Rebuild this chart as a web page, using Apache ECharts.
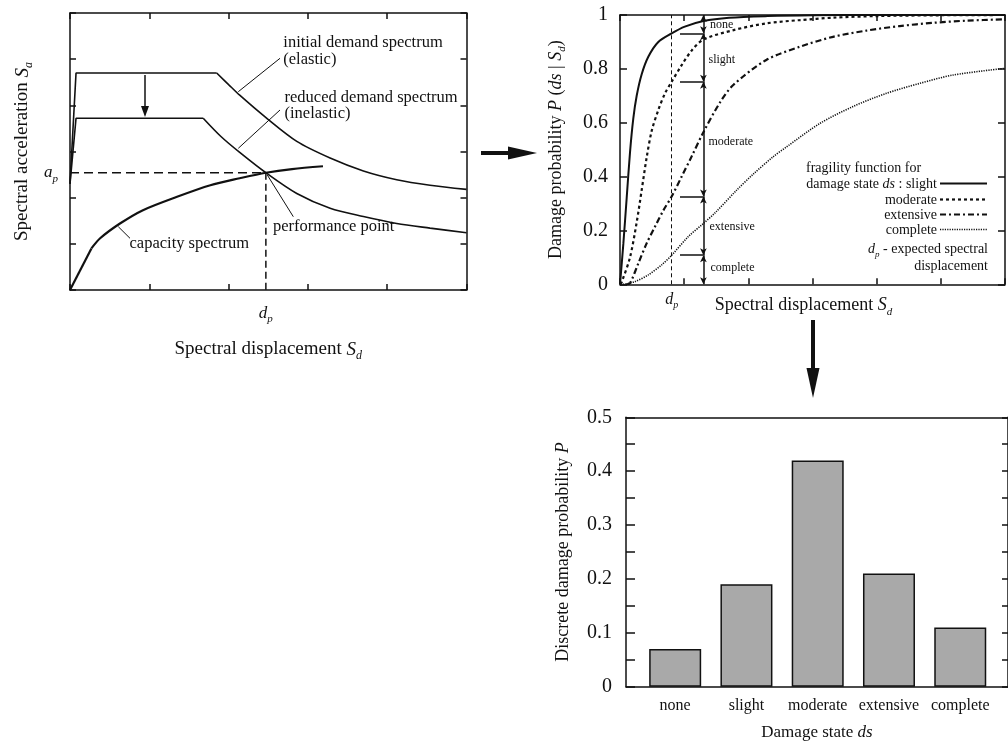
<!DOCTYPE html>
<html><head><meta charset="utf-8">
<script src="https://cdn.jsdelivr.net/npm/echarts@6/dist/echarts.min.js"></script>
<style>html,body{margin:0;padding:0;background:#fff}#c{width:1008px;height:742px}</style>
</head><body><div id="c"></div>
<script>
// ---------- Panel 1: capacity spectrum method ----------
const elasticRise   = [[0,2.3],[0.076,4.70],[1.85,4.70]];
const elasticFall   = [[1.85,4.70],[2.0,4.45],[2.14,4.22],[2.46,3.75],[2.86,3.22],[3.28,2.86],[3.70,2.58],[4.12,2.39],[4.54,2.27],[5.0,2.18]];
const reducedRise   = [[0,2.3],[0.076,3.72],[1.68,3.72]];
const reducedFall   = [[1.68,3.72],[1.9,3.33],[2.14,2.98],[2.47,2.54],[2.86,2.09],[3.28,1.77],[3.70,1.59],[4.12,1.44],[4.54,1.34],[5.0,1.24]];
const capacityLinear = [[0,0],[0.27,0.9]];
const capacityCurve  = [[0.27,0.9],[0.38,1.12],[0.63,1.44],[0.92,1.73],[1.35,2.02],[1.77,2.27],[2.14,2.42],[2.47,2.54],[2.8,2.62],[3.19,2.68]];
const perfPoint = [2.47, 2.54];

// ---------- Panel 2: fragility curves ----------
const fragSlight   = [[0,0],[0.052,0.15],[0.104,0.32],[0.156,0.49],[0.207,0.615],[0.26,0.70],[0.338,0.78],[0.441,0.845],[0.597,0.90],[0.805,0.932],[1.01,0.957],[1.3,0.978],[1.7,0.99],[2.3,0.996],[3.0,0.999],[4.0,1.0],[6,1.0]];
const fragModerate = [[0.01,0],[0.03,0.01],[0.156,0.10],[0.26,0.23],[0.338,0.35],[0.415,0.47],[0.494,0.57],[0.597,0.647],[0.701,0.709],[0.805,0.752],[0.961,0.814],[1.117,0.868],[1.3,0.909],[1.77,0.944],[2.28,0.969],[2.8,0.981],[3.32,0.99],[4.0,0.996],[5,0.999],[6,1.0]];
const fragExtensive = [[0.1,0],[0.156,0.004],[0.286,0.078],[0.415,0.152],[0.545,0.214],[0.675,0.274],[0.805,0.326],[0.961,0.40],[1.117,0.475],[1.3,0.565],[1.558,0.675],[1.765,0.74],[2.28,0.833],[2.8,0.882],[3.32,0.919],[3.84,0.942],[4.36,0.959],[4.88,0.971],[5.4,0.979],[6,0.984]];
const fragComplete = [[0.05,0],[0.234,0.01],[0.441,0.035],[0.649,0.072],[0.805,0.108],[1.064,0.177],[1.3,0.226],[1.48,0.265],[1.82,0.35],[2.08,0.41],[2.39,0.474],[2.6,0.511],[3.12,0.598],[3.63,0.66],[4.15,0.709],[4.67,0.746],[5.19,0.777],[6,0.802]];
const dp = 0.805;
const dimX = 1.3;
const dpProbs = [0.932, 0.752, 0.326, 0.108];
const yTicks2 = ['0','0.2','0.4','0.6','0.8','1'];

// ---------- Panel 3: discrete damage probabilities ----------
const damageStates = ['none','slight','moderate','extensive','complete'];
const discreteProb = [0.07, 0.19, 0.42, 0.21, 0.11];

const F = '"Liberation Serif","Times New Roman",serif';
const INK = '#111';
const rich = (base) => ({
  n: {fontFamily:F, fontSize:base, color:INK, lineHeight:base+6},
  i: {fontFamily:F, fontSize:base, fontStyle:'italic', color:INK, lineHeight:base+6},
  s: {fontFamily:F, fontSize:Math.round(base*0.62), fontStyle:'italic', color:INK, verticalAlign:'bottom', lineHeight:Math.round(base*0.62)}
});
const axLine = {show:true, onZero:false, lineStyle:{color:INK, width:1.5}};
const tickIn = (len) => ({show:true, inside:true, length:len, lineStyle:{color:INK, width:1.5}});

const chart = echarts.init(document.getElementById('c'), null, {renderer:'canvas'});

const line = (data, xi, style, smooth) => ({
  type:'line', xAxisIndex:xi, yAxisIndex:xi, data, symbol:'none', silent:true,
  smooth: smooth ? 0.3 : false,
  lineStyle: Object.assign({color:INK, width:1.6}, style), z:3
});

const bounds = [0].concat(dpProbs.slice().reverse(), [1]);

const option = {
  animation:false,
  backgroundColor:'#fff',
  grid:[
    {left:70, top:13, width:396.5, height:277},
    {left:620, top:15, width:385, height:269.3},
    {left:626, top:417.3, width:384, height:269.4}
  ],
  xAxis:[
    {gridIndex:0, type:'value', min:0, max:5, interval:1, axisLine:axLine, axisTick:tickIn(6), splitLine:{show:false},
     axisLabel:{customValues:[perfPoint[0]], margin:12, formatter:()=> '{i|d}{s|p}', rich:rich(17)},
     name:'{n|Spectral displacement }{i|S}{s|d}', nameLocation:'middle', nameGap:47, nameMoveOverlap:false, nameTextStyle:{rich:rich(19)}},
    {gridIndex:0, type:'value', position:'top', min:0, max:5, interval:1, axisLine:axLine, axisTick:tickIn(6), axisLabel:{show:false}, splitLine:{show:false}},
    {gridIndex:1, type:'value', min:0, max:6, interval:1, axisLine:axLine, axisTick:tickIn(6), splitLine:{show:false},
     axisLabel:{customValues:[dp], margin:4, formatter:()=> '{i|d}{s|p}', rich:rich(16)},
     name:'{n|Spectral displacement }{i|S}{s|d}', nameLocation:'middle', nameGap:9, nameMoveOverlap:false, nameTextStyle:{rich:rich(18), padding:[0,18,0,0]}},
    {gridIndex:1, type:'value', position:'top', min:0, max:6, interval:1, axisLine:axLine, axisTick:tickIn(6), axisLabel:{show:false}, splitLine:{show:false}},
    {gridIndex:2, type:'value', min:-0.69, max:4.67, axisLine:axLine, axisTick:{show:false}, splitLine:{show:false},
     axisLabel:{customValues:[0,1,2,3,4], margin:11, formatter:(v)=> damageStates[Math.round(v)], fontFamily:F, fontSize:16, color:INK},
     name:'{n|Damage state }{i|ds}', nameLocation:'middle', nameGap:34, nameMoveOverlap:false, nameTextStyle:{rich:rich(17)}},
    {gridIndex:2, type:'value', position:'top', min:-0.69, max:4.67, axisLine:axLine, axisTick:{show:false}, axisLabel:{show:false}, splitLine:{show:false}}
  ],
  yAxis:[
    {gridIndex:0, type:'value', min:0, max:6, interval:1, axisLine:axLine, axisTick:tickIn(6), splitLine:{show:false},
     axisLabel:{customValues:[perfPoint[1]], margin:12, formatter:()=> '{i|a}{s|p}', rich:rich(17)},
     name:'{n|Spectral acceleration }{i|S}{s|a}', nameLocation:'middle', nameRotate:90, nameGap:35, nameMoveOverlap:false, nameTextStyle:{rich:rich(19)}},
    {gridIndex:0, type:'value', position:'right', min:0, max:6, interval:1, axisLine:axLine, axisTick:tickIn(6), axisLabel:{show:false}, splitLine:{show:false}},
    {gridIndex:1, type:'value', min:0, max:1, interval:0.2, axisLine:axLine, axisTick:tickIn(7), splitLine:{show:false},
     axisLabel:{margin:12, fontFamily:F, fontSize:20, color:INK, formatter:(v)=> yTicks2[Math.round(v*5)]},
     name:'{n|Damage probability }{i|P}{n| (}{i|ds}{n| | }{i|S}{s|d}{n|)}', nameLocation:'middle', nameRotate:90, nameGap:52, nameMoveOverlap:false, nameTextStyle:{rich:rich(18)}},
    {gridIndex:1, type:'value', position:'right', min:0, max:1, interval:0.2, axisLine:axLine, axisTick:tickIn(7), axisLabel:{show:false}, splitLine:{show:false}},
    {gridIndex:2, type:'value', min:0, max:0.5, interval:0.05, axisLine:axLine, axisTick:tickIn(9), splitLine:{show:false},
     axisLabel:{margin:14, fontFamily:F, fontSize:20, color:INK, formatter:(v)=>{const t=Math.round(v*100); if(t%10) return ''; return t===0?'0':(t/100).toFixed(1);}},
     name:'{n|Discrete damage probability }{i|P}', nameLocation:'middle', nameRotate:90, nameGap:51, nameMoveOverlap:false, nameTextStyle:{rich:rich(18)}},
    {gridIndex:2, type:'value', position:'right', min:0, max:0.5, interval:0.05, axisLine:axLine, axisTick:tickIn(6), axisLabel:{show:false}, splitLine:{show:false}}
  ],
  series:[
    // panel 1
    line(elasticRise, 0, {width:1.6}, false),
    line(elasticFall, 0, {width:1.6}, true),
    line(reducedRise, 0, {width:1.6}, false),
    line(reducedFall, 0, {width:1.6}, true),
    line(capacityLinear, 0, {width:2.2}, false),
    line(capacityCurve, 0, {width:2.2}, true),
    line([[0,perfPoint[1]],perfPoint], 0, {width:1.5, type:[9,5]}, false),
    line([perfPoint,[perfPoint[0],0]], 0, {width:1.5, type:[7,4]}, false),
    // panel 2
    Object.assign(line(fragSlight, 2, {width:2}, true), {name:'slight'}),
    Object.assign(line(fragModerate, 2, {width:2.2, type:[3,3]}, true), {name:'moderate'}),
    Object.assign(line(fragExtensive, 2, {width:2.2, type:[6,3,2,3]}, true), {name:'extensive'}),
    Object.assign(line(fragComplete, 2, {width:1.6, type:[1.2,1.2]}, true), {name:'complete'}),
    {type:'line', xAxisIndex:2, yAxisIndex:2, data:[], silent:true,
     markLine:{silent:true, animation:false, label:{show:false}, symbol:['none','none'],
       lineStyle:{color:INK, width:1, type:'solid'},
       data: [[{coord:[dp,0], lineStyle:{type:[4,3], width:1}},{coord:[dp,1]}]]
         .concat(dpProbs.map(p => [{coord:[0.935,p], lineStyle:{width:1.5}},{coord:[dimX,p]}]))
     }},
    {type:'line', xAxisIndex:2, yAxisIndex:2, data:[], silent:true,
     markLine:{silent:true, animation:false, label:{show:false}, symbol:['arrow','arrow'], symbolSize:[5,7],
       lineStyle:{color:INK, width:1.5, type:'solid'},
       data: bounds.slice(0,-1).map((b,k)=>[{coord:[dimX,b]},{coord:[dimX,bounds[k+1]]}])
     }},
    // panel 3
    {type:'bar', xAxisIndex:4, yAxisIndex:4, barWidth:52, silent:true,
     data: damageStates.map((s,k)=>[k, discreteProb[k]]),
     itemStyle:{color:'#a9a9a9', borderColor:INK, borderWidth:1.5}}
  ],
  graphic:[]
};

const G = [];
const txt = (x, y, text, size, align, richObj) => G.push({type:'text', x, y, silent:true, z:10,
  style:{text, x:0, y:0, fill:INK, font:`${size}px ${F}`, fontFamily:F, fontSize:size, align:align||'left', textAlign:align||'left', verticalAlign:'middle', textVerticalAlign:'middle', rich:richObj}});
const seg = (x1,y1,x2,y2,w,dash) => G.push({type:'line', silent:true, z:10, shape:{x1,y1,x2,y2}, style:{stroke:INK, lineWidth:w||1, lineDash:dash||null}});
const poly = (pts) => G.push({type:'polygon', silent:true, z:10, shape:{points:pts}, style:{fill:INK}});

// panel 1 annotations
txt(283.3, 43, 'initial demand spectrum', 16.5);
txt(283.3, 60, '(elastic)', 16.5);
txt(284.5, 98, 'reduced demand spectrum', 16.5);
txt(284.5, 114, '(inelastic)', 16.5);
txt(273, 226.7, 'performance point', 16.5);
txt(129.5, 243.3, 'capacity spectrum', 16.5);
seg(280,58.3,238.3,91.7,1);
seg(280,110,238.3,148.3,1);
seg(293.3,216.7,267.3,175,1);
seg(130,238.3,118.3,226.7,1);
seg(145,75,145,108,1.5);
poly([[141,106],[149,106],[145,117]]);
// arrows between panels
seg(481,153,512,153,4);
poly([[508,146.5],[537,153],[508,159.5]]);
seg(813,320,813,372,4);
poly([[806.5,368],[819.5,368],[813,398]]);

// panel 2 interval labels
txt(710, 25, 'none', 12);
txt(708.5, 60, 'slight', 12);
txt(708.5, 141.7, 'moderate', 12);
txt(709.5, 226.7, 'extensive', 12);
txt(710.5, 267.7, 'complete', 12);

// panel 2 legend
const lr = rich(14);
txt(806, 168, 'fragility function for', 14);
txt(937, 184, '{n|damage state }{i|ds}{n| : slight}', 14, 'right', lr);
txt(937, 200, 'moderate', 14, 'right');
txt(937, 215, 'extensive', 14, 'right');
txt(937, 230, 'complete', 14, 'right');
txt(988, 249, '{i|d}{s|p}{n| - expected spectral}', 14, 'right', lr);
txt(988, 266, 'displacement', 14, 'right');
seg(940,183.5,987,183.5,2);
seg(940,199.5,987,199.5,2.2,[3,3]);
seg(940,214.5,987,214.5,2.2,[6,3,2,3]);
seg(940,229.5,987,229.5,1.5,[1.2,1.2]);

option.graphic = G;
chart.setOption(option);
</script></body></html>
